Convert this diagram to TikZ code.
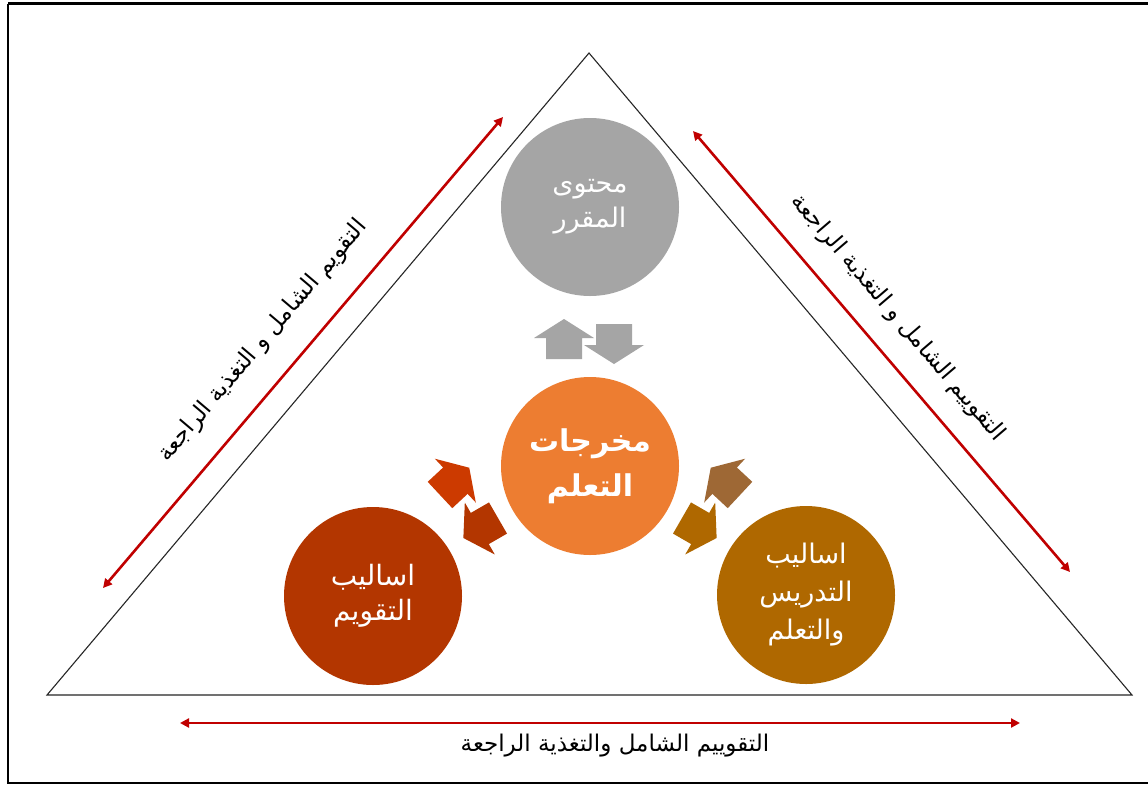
\documentclass[tikz,border=0pt]{standalone}
\usepackage{fontspec}
\newfontfamily\arabicfont[Script=Arabic]{DejaVu Sans}
\TeXXeTstate=1
\usetikzlibrary{arrows.meta}
\newcommand{\artxt}[1]{{\arabicfont\beginR #1\endR}}
\definecolor{cgray}{HTML}{A5A5A5}
\definecolor{corange}{HTML}{ED7D31}
\definecolor{cleft}{HTML}{B33600}
\definecolor{cleftlight}{HTML}{CC3A00}
\definecolor{cright}{HTML}{AF6800}
\definecolor{crightlight}{HTML}{9E6835}
\definecolor{cred}{HTML}{C00000}
\tikzset{
  topic/.style={circle, minimum size=178pt, inner sep=0pt, text=white, align=center,
    font=\fontsize{27}{35}\selectfont},
  feedback/.style={draw=cred, line width=2.6pt, {Triangle[length=9pt,width=9pt]}-{Triangle[length=9pt,width=9pt]}},
  fblabel/.style={font=\fontsize{23}{26}\selectfont, text=black, inner sep=0pt},
  barrow/.pic={\fill[pic actions] (0,-18) -- (21,-18) -- (21,-30) -- (40,0) -- (21,30) -- (21,18) -- (0,18) -- cycle;}
}
\begin{document}
\begin{tikzpicture}[x=1pt,y=-1pt]
\useasboundingbox (0,0) rectangle (1148,785);
\fill[white] (0,0) rectangle (1148,785);
% frame
\draw[line width=2.6pt, black] (8,3.5) -- (1160,3.5) (8,3.5) -- (8,783) -- (1160,783);
% triangle
\coordinate (apex) at (589,53);
\coordinate (bl) at (47,695);
\coordinate (br) at (1132,695);
\draw[line width=1.1pt, black!85] (apex) -- (bl) -- (br) -- cycle;
% circles
\node[topic, fill=cgray] (content) at (590,207) {\artxt{محتوى}\\\artxt{المقرر}};
\node[topic, fill=corange, font=\bfseries\fontsize{30}{45}\selectfont] (outcomes) at (590,466) {\artxt{مخرجات}\\\artxt{التعلم}};
\node[topic, fill=cleft, font=\fontsize{28}{35}\selectfont] (assess) at (373,596) {\artxt{اساليب}\\\artxt{التقويم}};
\node[topic, fill=cright, font=\fontsize{27}{38}\selectfont] (teach) at (806,595) {\artxt{اساليب}\\\artxt{التدريس}\\\artxt{والتعلم}};
% block arrows
\pic[fill=cgray, rotate=90] at (564,359) {barrow};
\pic[fill=cgray, rotate=-90] at (614,324) {barrow};
\pic[fill=cleftlight, rotate=43] at (440,495) {barrow};
\pic[fill=cleft, rotate=210] at (498,518) {barrow};
\pic[fill=crightlight, rotate=137] at (740,495) {barrow};
\pic[fill=cright, rotate=-30] at (682,518) {barrow};
% feedback arrows
\coordinate (l1) at (103,588); \coordinate (l2) at (503,117);
\coordinate (r1) at (693,131); \coordinate (r2) at (1070,572);
\coordinate (b1) at (180,723); \coordinate (b2) at (1020,723);
\draw[feedback] (l1) -- (l2);
\draw[feedback] (r1) -- (r2);
\draw[feedback] (b1) -- (b2);
\node[fblabel, rotate=49.7] (lleft) at (263,341) {\artxt{التقويم الشامل و التغذية الراجعة}};
\node[fblabel, rotate=-49.5] (lright) at (898,318) {\artxt{التقوييم الشامل و التغذية الراجعة}};
\node[fblabel] (lbottom) at (615,746) {\artxt{التقوييم الشامل والتغذية الراجعة}};
\end{tikzpicture}
\end{document}
